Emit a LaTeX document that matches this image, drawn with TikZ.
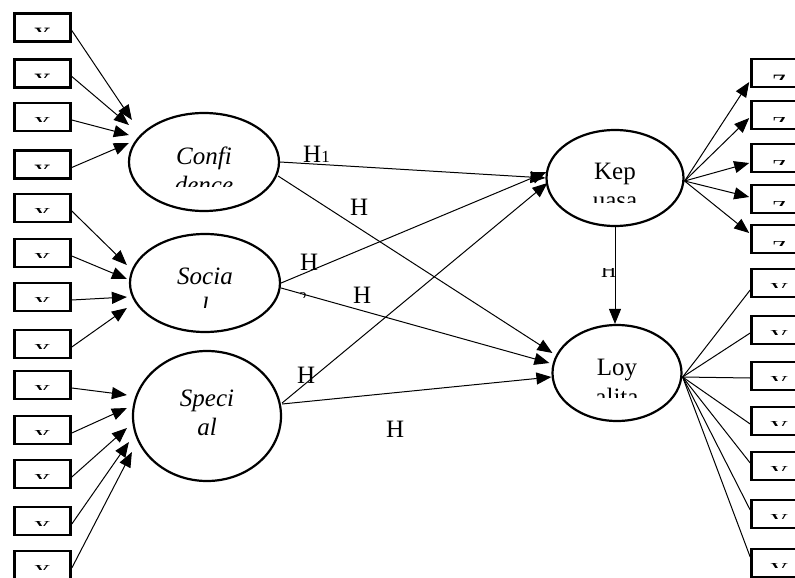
\documentclass[tikz,border=0pt]{standalone}
\usepackage{fontspec}
\setmainfont{Liberation Serif}
\usetikzlibrary{shapes.geometric, arrows.meta, calc}
\tikzset{
    indicator/.style={rectangle, draw, line width=2.6pt, minimum width=56pt, minimum height=28pt, inner sep=0pt},
    latent/.style={ellipse, draw, line width=2.2pt, inner sep=0pt},
    arrow/.style={line width=1pt, -{Triangle[length=15pt, width=12pt]}},
    link/.style={line width=1pt},
    caption/.style={font=\fontsize{25}{29}\selectfont, inner sep=0pt, anchor=base},
    stub/.style={font=\fontsize{25}{29}\selectfont, inner sep=0pt, anchor=north}
}

\begin{document}
\begin{tikzpicture}[x=1pt, y=-1pt]
    \clip (0,0) rectangle (795,578);
    \fill[white] (0,0) rectangle (795,578);

    % latent variables
    \node[latent, minimum width=150pt, minimum height=98pt] (conf) at (204,162) {};
    \node[latent, minimum width=150pt, minimum height=98pt] (soc) at (205,283) {};
    \node[latent, minimum width=148pt, minimum height=130pt] (spec) at (207,416) {};
    \node[latent, minimum width=137pt, minimum height=96pt] (kep) at (615,178) {};
    \node[latent, minimum width=129pt, minimum height=96pt] (loy) at (617,373) {};

    % names inside the ellipses, second lines cut off
    \node[caption] (conf_a) at ($(conf)+(0,2)$) {\itshape Confi};
    \begin{scope}
        \clip ($(conf)+(-70,10)$) rectangle ($(conf)+(70,24)$);
        \node[caption] (conf_b) at ($(conf)+(0,31)$) {\itshape dence};
    \end{scope}
    \node[caption] (soc_a) at ($(soc)+(0,1)$) {\itshape Socia};
    \begin{scope}
        \clip ($(soc)+(-70,10)$) rectangle ($(soc)+(70,24)$);
        \node[caption] (soc_b) at ($(soc)+(0,31)$) {\itshape l};
    \end{scope}
    \node[caption] (spec_a) at ($(spec)+(0,-10)$) {\itshape Speci};
    \node[caption] (spec_b) at ($(spec)+(0,19)$) {\itshape al};
    \node[caption] (kep_a) at ($(kep)+(0,1)$) {Kep};
    \begin{scope}
        \clip ($(kep)+(-65,10)$) rectangle ($(kep)+(65,24)$);
        \node[caption] (kep_b) at ($(kep)+(0,30)$) {uasa};
    \end{scope}
    \node[caption] (loy_a) at ($(loy)+(0,2)$) {Loy};
    \begin{scope}
        \clip ($(loy)+(-60,10)$) rectangle ($(loy)+(60,24)$);
        \node[caption] (loy_b) at ($(loy)+(0,32)$) {alita};
    \end{scope}

    % indicators on the left
    \foreach \i/\y in {1/27.5, 2/73.5, 3/117, 4/164.5, 5/208, 6/253, 7/297, 8/344, 9/385, 10/430, 11/474, 12/521, 13/565} {
        \node[indicator] (x\i) at (42.5,\y) {};
        \begin{scope}
            \clip (x\i.west) rectangle ([shift={(0,4)}]x\i.east);
            \node[stub] (xt\i) at (x\i.center) {X};
        \end{scope}
    }
    \foreach \i/\dx/\dy in {1/4/-42, 2/1/-37, 3/1/-27, 4/1/-19}
        \draw[arrow] ([shift={(0,3)}]x\i.east) -- ([shift={(\dx,\dy)}]conf.west);
    \foreach \i/\dx/\dy in {5/-2/-18, 6/-2/-4, 7/-2/14, 8/-2/25}
        \draw[arrow] ([shift={(0,3)}]x\i.east) -- ([shift={(\dx,\dy)}]soc.west);
    \foreach \i/\dx/\dy in {9/-5/-21, 10/-5/-8, 11/-5/12, 12/-3/26, 13/0/36}
        \draw[arrow] ([shift={(0,3)}]x\i.east) -- ([shift={(\dx,\dy)}]spec.west);

    % indicators on the right
    \foreach \i/\y/\dy in {1/73/9, 2/115/3, 3/158/5, 4/199/-2, 5/239/-6} {
        \node[indicator] (z\i) at (779.5,\y) {};
        \begin{scope}
            \clip ([shift={(0,2)}]z\i.west) rectangle ([shift={(0,6)}]z\i.east);
            \node[stub] (zt\i) at ([shift={(0,2)}]z\i.center) {Z};
        \end{scope}
        \draw[arrow] ([shift={(0,3)}]kep.east) -- ([shift={(-1,\dy)}]z\i.west);
    }
    \foreach \i/\y/\dy in {1/283/7, 2/330/3, 3/376/2, 4/421/3, 5/466/-3, 6/514/-4, 7/563/-6} {
        \node[indicator] (y\i) at (779.5,\y) {};
        \begin{scope}
            \clip (y\i.west) rectangle ([shift={(0,4)}]y\i.east);
            \node[stub] (yt\i) at (y\i.center) {Y};
        \end{scope}
        \draw[link] ([shift={(0,4)}]loy.east) -- ([shift={(0,\dy)}]y\i.west);
    }

    % structural paths
    \draw[arrow] (conf.east) -- (kep.west);
    \draw[arrow] ([shift={(-2,14)}]conf.east) -- ([shift={(1,-20)}]loy.west);
    \draw[arrow] (soc.east) -- ([shift={(1,-6)}]kep.west);
    \draw[arrow] ([shift={(0,5)}]soc.east) -- ([shift={(-2,-10)}]loy.west);
    \draw[arrow] ([shift={(0,-13)}]spec.east) -- ([shift={(2,5)}]kep.west);
    \draw[arrow] ([shift={(0,-12)}]spec.east) -- ([shift={(0,4)}]loy.west);
    \draw[arrow] (kep.south) -- (kep.south |- loy.north);

    % hypothesis labels
    \node[caption, anchor=base west] (h1) at (303,162) {H{\fontsize{17}{17}\selectfont 1}};
    \node[caption, anchor=base west] (h2) at (350,215) {H};
    \node[caption, anchor=base west] (h3) at (300,270) {H};
    \begin{scope}
        \clip (294,292) rectangle (312,297);
        \node[stub, font=\fontsize{15}{15}\selectfont] (h3_sub) at (303,292) {2};
    \end{scope}
    \node[caption, anchor=base west] (h4) at (353,303) {H};
    \node[caption, anchor=base west] (h5) at (297,383) {H};
    \node[caption, anchor=base west] (h6) at (386,437) {H};
    \begin{scope}
        \clip (595,268) rectangle (625,282);
        \node[caption, anchor=base west, font=\fontsize{21}{21}\selectfont] (h7) at (601,277) {H};
    \end{scope}
\end{tikzpicture}
\end{document}
